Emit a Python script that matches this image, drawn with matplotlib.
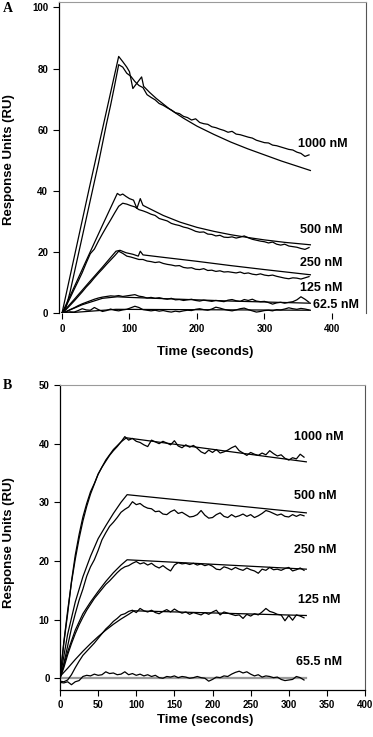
import numpy as np
import matplotlib
matplotlib.use('Agg')
import matplotlib.pyplot as plt

plt.rcParams['font.family'] = ['Liberation Sans', 'DejaVu Sans']

# ---- panel A: sensorgrams sampled every 6 s ----
time_a = np.arange(0, 367, 6)

a_1000 = [0, 2.0, 7.0, 13.0, 19.0, 25.0, 31.0, 37.0, 43.0, 49.0,
          55.5, 62.0, 68.0, 74.5, 81.3, 80.5, 78.5, 77.5, 75.8, 74.5,
          73.8, 71.5, 70.6, 69.8, 68.6, 68.0, 67.2, 66.5, 65.6, 65.3,
          64.4, 64.0, 63.2, 63.6, 62.4, 62.0, 61.8, 61.0, 60.7, 60.2,
          59.8, 59.2, 59.5, 58.6, 58.4, 58.0, 57.6, 57.3, 56.6, 56.2,
          55.8, 55.7, 55.0, 54.8, 54.4, 54.0, 53.6, 53.4, 52.7, 52.3,
          51.3, 51.8]
a_500 = [0, 2.3, 5.0, 7.8, 10.5, 13.3, 16.5, 19.5, 21.0, 23.6,
         26.0, 28.3, 30.5, 32.8, 35.0, 36.0, 35.7, 35.2, 34.8, 33.9,
         33.5, 33.0, 32.4, 32.0, 31.0, 30.6, 30.2, 29.4, 29.0, 28.7,
         28.2, 27.9, 27.4, 26.8, 26.5, 26.6, 25.9, 25.8, 25.3, 25.5,
         24.9, 24.8, 25.0, 24.6, 24.9, 25.3, 24.7, 24.2, 23.9, 23.6,
         23.4, 23.0, 23.3, 22.6, 22.3, 22.6, 22.0, 21.8, 21.6, 21.2,
         20.9, 21.5]
a_250 = [0, 1.2, 2.6, 4.0, 5.5, 7.0, 8.6, 10.0, 11.6, 13.1,
         14.5, 16.0, 17.4, 18.8, 20.3, 19.6, 18.7, 18.4, 18.0, 17.6,
         17.6, 17.1, 16.9, 16.6, 16.8, 16.3, 16.0, 15.8, 15.5, 15.6,
         15.0, 14.8, 14.9, 14.4, 14.3, 14.6, 14.0, 14.1, 13.7, 13.9,
         13.5, 13.6, 13.4, 13.2, 13.5, 13.0, 13.2, 12.8, 12.6, 12.9,
         12.5, 12.3, 12.5, 12.1, 11.8, 11.5, 11.3, 11.6, 11.5, 11.2,
         11.6, 12.0]
a_125 = [0, 0.5, 1.2, 1.8, 2.5, 3.1, 3.6, 4.1, 4.6, 5.0,
         5.3, 5.5, 5.7, 5.6, 5.8, 5.5, 5.7, 5.9, 6.1, 5.6,
         5.4, 5.0, 5.2, 4.9, 5.1, 4.8, 4.6, 4.9, 4.4, 4.5,
         4.2, 4.4, 4.6, 4.2, 4.0, 4.3, 4.1, 3.9, 4.2, 4.0,
         3.8, 4.3, 4.5, 4.1, 3.9, 4.5, 4.2, 4.6, 4.0, 3.8,
         3.9, 3.5, 3.0, 3.4, 3.6, 3.3, 3.6, 3.8, 4.4, 5.4,
         4.6, 3.6]
a_62 = [0, 0.3, 0.5, 0.4, 0.9, 1.5, 1.1, 1.0, 1.9, 1.2,
        0.6, 0.9, 1.4, 1.0, 0.8, 1.1, 1.3, 1.8, 2.3, 1.9,
        1.2, 1.0, 0.8, 1.0, 0.7, 0.9, 0.6, 0.4, 0.7, 0.5,
        0.8, 1.0, 0.9, 1.3, 1.5, 1.2, 1.0, 1.4, 2.0, 1.7,
        1.3, 1.0, 0.8, 1.1, 1.5, 1.7, 1.2, 0.8, 0.4, 0.6,
        0.9, 1.0, 0.8, 1.2, 1.1, 1.4, 1.8, 1.5, 1.3, 1.6,
        1.4, 1.1]

# fitted curves, panel A
fit_a_1000_t = [0, 40, 84, 90, 96, 100, 105, 118, 121, 130, 140, 160, 180, 200, 225, 250, 275, 300, 325, 350, 368]
fit_a_1000_y = [0, 40.5, 84, 82.3, 80.5, 79, 73.5, 77.3, 74.2, 72.2, 70.2, 66.7, 63.8, 61.2, 58.5, 56, 53.8, 51.8, 49.8, 48, 46.7]
fit_a_500_t = [0, 20, 40, 60, 82, 86, 90, 95, 100, 106, 111, 116, 120, 130, 150, 175, 200, 225, 250, 275, 300, 330, 368]
fit_a_500_y = [0, 9.5, 19.2, 28.8, 39.2, 38.6, 39.0, 38.2, 37.5, 37.0, 34.3, 37.5, 35.3, 34.2, 32.0, 29.8, 28.1, 26.8, 25.7, 24.8, 24.0, 23.2, 22.4]
fit_a_250_t = [0, 20, 40, 60, 80, 86, 95, 105, 113, 116, 120, 150, 200, 250, 300, 368]
fit_a_250_y = [0, 5, 10.1, 15.1, 20.3, 20.6, 19.8, 19.3, 18.7, 20.3, 19.1, 18.3, 17.0, 15.6, 14.3, 12.6]
fit_a_125_t = [0, 30, 60, 82, 100, 150, 200, 250, 300, 368]
fit_a_125_y = [0, 2.8, 4.9, 5.4, 5.2, 4.8, 4.4, 4.0, 3.7, 3.3]
fit_a_62_t = [0, 80, 368]
fit_a_62_y = [0, 1.3, 1.0]

labels_a = ['1000 nM', '500 nM', '250 nM', '125 nM', '62.5 nM']
label_a_x = [350, 352, 352, 352, 372]
label_a_y = [55.3, 27.2, 16.3, 8.2, 2.7]

# ---- panel B: sensorgrams sampled every 5 s ----
time_b = np.arange(0, 321, 5)

b_1000 = [0, 6.0, 11.0, 16.5, 21.0, 24.5, 27.5, 29.8, 31.8, 33.2,
          34.8, 36.0, 37.0, 38.0, 38.8, 39.5, 40.3, 41.2, 40.6, 40.9,
          40.4, 40.2, 39.8, 39.5, 40.6, 40.3, 40.0, 40.4, 40.1, 39.8,
          40.5, 39.6, 39.3, 39.8, 39.4, 39.7, 39.2, 38.6, 38.3, 38.9,
          38.5, 39.0, 38.4, 38.6, 38.9, 39.3, 39.6, 38.8, 38.4, 38.0,
          38.5, 38.2, 38.0, 38.4, 38.1, 38.8, 38.3, 37.9, 38.1, 37.5,
          37.2, 37.6, 37.4, 38.2, 37.7]
b_500 = [0, 2.5, 5.5, 8.5, 11.0, 13.3, 15.2, 17.4, 19.0, 20.2,
         21.8, 23.6, 24.8, 25.9, 26.6, 27.4, 28.3, 28.8, 29.2, 30.1,
         29.6, 29.8, 29.3, 29.0, 28.9, 28.4, 28.5, 28.0, 27.9, 28.4,
         28.7, 28.1, 28.3, 27.9, 27.5, 27.6, 27.9, 28.6, 27.8, 27.3,
         27.4, 27.9, 28.2, 27.6, 27.4, 27.9, 27.5, 27.7, 28.0, 27.6,
         27.9, 27.4, 27.7, 28.1, 28.6, 28.4, 28.1, 27.8, 28.0, 27.6,
         27.5, 27.9, 27.6, 27.9, 27.7]
b_250 = [0, 1.8, 4.0, 5.9, 7.6, 9.1, 10.4, 11.6, 12.6, 13.6,
         14.4, 15.2, 16.0, 16.6, 17.3, 18.0, 18.6, 19.0, 19.2, 19.6,
         19.9, 19.5, 19.7, 19.3, 19.6, 19.1, 18.8, 19.2, 18.7, 18.3,
         19.3, 19.7, 19.5, 19.6, 19.4, 19.6, 19.3, 19.5, 19.2, 19.4,
         19.1, 18.6, 18.5, 19.0, 18.8, 18.5, 18.9, 18.6, 18.4, 18.8,
         18.5, 18.3, 17.9, 18.6, 18.4, 18.9, 18.5, 18.6, 18.4, 18.7,
         18.9, 18.3, 18.5, 18.8, 18.4]
b_125 = [-0.5, -0.6, -0.3, 0.6, 1.8, 2.9, 3.9, 4.6, 5.3, 6.0,
         6.8, 7.6, 8.4, 9.0, 9.7, 10.2, 10.8, 11.0, 11.4, 11.6,
         11.2, 11.9, 11.5, 11.3, 11.6, 11.2, 11.0, 11.4, 11.7, 11.3,
         11.8, 11.4, 11.1, 11.3, 10.9, 11.2, 11.0, 10.8, 11.2, 10.9,
         11.3, 11.6, 10.8, 11.3, 11.1, 10.9, 10.7, 10.8, 10.2, 10.9,
         10.6, 11.0, 10.8, 11.3, 11.9, 11.4, 11.2, 10.9, 10.8, 9.8,
         10.7, 9.9, 10.8, 10.6, 10.3]
b_65 = [-0.7, -0.8, -0.6, -1.1, -0.6, -0.4, 0.3, 0.5, 0.4, 0.7,
        0.5, 0.6, 1.1, 0.8, 0.9, 0.6, 0.7, 1.1, 0.6, 0.8,
        0.5, 0.7, 0.4, 0.6, 0.3, 0.5, 0.1, 0.0, 0.3, 0.2,
        0.4, 0.1, 0.3, 0.2, 0.0, 0.1, 0.3, 0.1, 0.0, -0.5,
        -0.2, 0.2, 0.1, 0.4, 0.3, 0.7, 1.0, 1.2, 0.9, 1.1,
        0.7, 0.4, 0.6, 0.2, 0.4, 0.3, 0.1, 0.2, -0.2, -0.4,
        -0.3, -0.2, 0.3, 0.1, -0.3]

# fitted curves, panel B
fit_b_1000_t = [0, 5, 10, 15, 20, 25, 30, 35, 40, 50, 60, 70, 80, 87, 323]
fit_b_1000_y = [0, 6.2, 11.5, 16.3, 20.3, 23.8, 26.8, 29.3, 31.4, 34.8, 37.2, 39.0, 40.3, 41.0, 36.9]
fit_b_500_t = [0, 10, 20, 30, 40, 50, 60, 70, 80, 88, 323]
fit_b_500_y = [0, 7.5, 13, 17.3, 20.8, 23.8, 26, 28.1, 30, 31.3, 28.2]
fit_b_250_t = [0, 10, 20, 30, 40, 50, 60, 70, 80, 88, 323]
fit_b_250_y = [0, 4.5, 8.2, 11, 13, 14.8, 16.5, 18, 19.3, 20.2, 18.6]
fit_b_125_t = [0, 10, 20, 30, 40, 50, 60, 70, 80, 90, 97, 323]
fit_b_125_y = [0.3, 1.7, 3.2, 4.6, 5.9, 7.1, 8.2, 9.2, 10.1, 10.9, 11.5, 10.7]
fit_b_65_t = [0, 323]
fit_b_65_y = [0, 0]

labels_b = ['1000 nM', '500 nM', '250 nM', '125 nM', '65.5 nM']
label_b_x = [307, 307, 307, 312, 309]
label_b_y = [41.2, 31.1, 21.9, 13.3, 2.8]

LW = 0.9
TICK_FONT = dict(fontsize=7, fontweight='bold')
LABEL_FONT = dict(fontsize=9.5, fontweight='bold')

fig = plt.figure(figsize=(3.73, 7.37), dpi=100)
ax_a = fig.add_axes([0.1571, 0.5749, 0.8234, 0.4224])
ax_b = fig.add_axes([0.1609, 0.0638, 0.8177, 0.4138])


def style_axes(ax):
    ax.spines['top'].set_color('#9a9a9a')
    ax.spines['right'].set_color('#555555')
    ax.spines['left'].set_linewidth(0.9)
    ax.spines['bottom'].set_linewidth(0.9)
    ax.spines['top'].set_linewidth(0.8)
    ax.spines['right'].set_linewidth(0.8)
    ax.tick_params(direction='out', length=4.5, width=0.8, pad=3)
    for lab in ax.get_xticklabels() + ax.get_yticklabels():
        lab.set_fontsize(TICK_FONT['fontsize'])
        lab.set_fontweight(TICK_FONT['fontweight'])


def set_labels(ax, xpos, ypos):
    ax.set_xlabel('Time (seconds)', va='center', **LABEL_FONT)
    ax.set_ylabel('Response Units (RU)', va='center', **LABEL_FONT)
    ax.xaxis.set_label_coords(*xpos)
    ax.yaxis.set_label_coords(*ypos)


# panel A
for ys in [a_1000, a_500, a_250, a_125, a_62]:
    ax_a.plot(time_a, ys, color='black', lw=LW)
for ft, fy in [(fit_a_1000_t, fit_a_1000_y), (fit_a_500_t, fit_a_500_y),
               (fit_a_250_t, fit_a_250_y), (fit_a_125_t, fit_a_125_y),
               (fit_a_62_t, fit_a_62_y)]:
    ax_a.plot(ft, fy, color='black', lw=LW)
for lab, lx, ly in zip(labels_a, label_a_x, label_a_y):
    ax_a.text(lx, ly, lab, ha='left', va='center', fontsize=9, fontweight='bold')

ax_a.set_xlim(-5, 450)
ax_a.set_ylim(0, 101.8)
ax_a.set_xticks([0, 100, 200, 300, 400])
ax_a.set_yticks([0, 20, 40, 60, 80, 100])
ax_a.spines['bottom'].set_visible(False)
style_axes(ax_a)
set_labels(ax_a, (0.477, -0.124), (-0.1605, 0.4925))

# panel B
ax_b.plot(fit_b_65_t, fit_b_65_y, color='#9a9a9a', lw=1.6)
for ys in [b_1000, b_500, b_250, b_125, b_65]:
    ax_b.plot(time_b, ys, color='black', lw=LW)
for ft, fy in [(fit_b_1000_t, fit_b_1000_y), (fit_b_500_t, fit_b_500_y),
               (fit_b_250_t, fit_b_250_y), (fit_b_125_t, fit_b_125_y)]:
    ax_b.plot(ft, fy, color='black', lw=LW)
for lab, lx, ly in zip(labels_b, label_b_x, label_b_y):
    ax_b.text(lx, ly, lab, ha='left', va='center', fontsize=9, fontweight='bold')

ax_b.set_xlim(0, 400)
ax_b.set_ylim(-2, 50)
ax_b.set_xticks(range(0, 401, 50))
ax_b.set_yticks(range(0, 51, 10))
style_axes(ax_b)
set_labels(ax_b, (0.475, -0.098), (-0.166, 0.482))

fig.text(0.008, 1 - 9 / 737, 'A', ha='left', va='center', fontsize=10,
         fontweight='bold', family='Liberation Serif')
fig.text(0.008, 1 - 386 / 737, 'B', ha='left', va='center', fontsize=10,
         fontweight='bold', family='Liberation Serif')

fig.savefig('out.png', dpi=100)
